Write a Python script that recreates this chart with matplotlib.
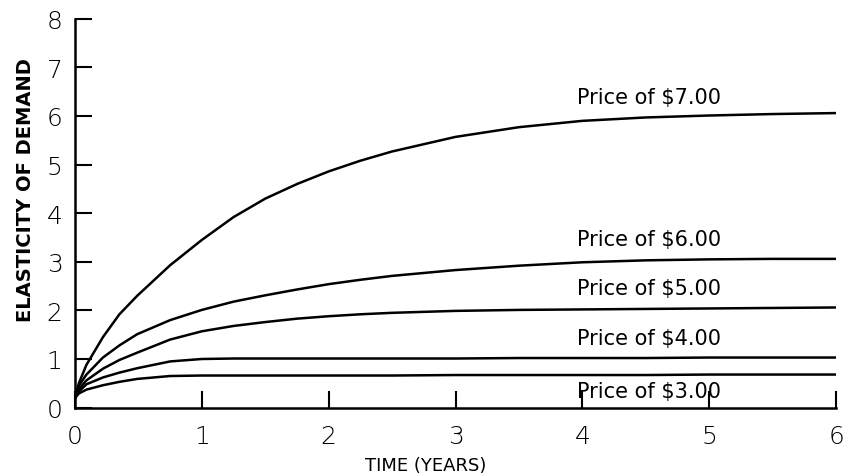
import matplotlib
matplotlib.use("Agg")
import matplotlib.pyplot as plt

# ── data ─────────────────────────────────────────────────────────────────────
years = [0, 0.03, 0.09, 0.22, 0.35, 0.49, 0.75, 1.0, 1.25, 1.5, 1.75,
         2.0, 2.25, 2.5, 3.0, 3.5, 4.0, 4.5, 5.0, 5.5, 6.0]

elast_7 = [0.2, 0.5, 0.88, 1.45, 1.92, 2.3, 2.93, 3.45, 3.92, 4.3, 4.6,
           4.86, 5.08, 5.27, 5.57, 5.77, 5.9, 5.97, 6.01, 6.04, 6.06]
elast_6 = [0.2, 0.45, 0.68, 1.03, 1.28, 1.51, 1.8, 2.01, 2.18, 2.31, 2.43,
           2.54, 2.63, 2.71, 2.83, 2.92, 2.99, 3.03, 3.05, 3.06, 3.06]
elast_5 = [0.2, 0.38, 0.56, 0.8, 0.98, 1.13, 1.4, 1.57, 1.68, 1.76, 1.83,
           1.88, 1.92, 1.95, 1.99, 2.01, 2.02, 2.03, 2.04, 2.05, 2.06]
elast_4 = [0.2, 0.33, 0.48, 0.62, 0.72, 0.81, 0.95, 1.0, 1.01, 1.01, 1.01,
           1.01, 1.01, 1.01, 1.01, 1.02, 1.02, 1.02, 1.03, 1.03, 1.03]
elast_3 = [0.2, 0.29, 0.37, 0.46, 0.53, 0.59, 0.65, 0.66, 0.66, 0.66, 0.66,
           0.66, 0.66, 0.66, 0.67, 0.67, 0.67, 0.67, 0.68, 0.68, 0.68]

series = [elast_7, elast_6, elast_5, elast_4, elast_3]
labels = ["Price of $7.00", "Price of $6.00", "Price of $5.00",
          "Price of $4.00", "Price of $3.00"]
label_x = 3.96
label_y = [6.39, 3.47, 2.46, 1.43, 0.35]

x_ticks = [0, 1, 2, 3, 4, 5, 6]
y_ticks = [0, 1, 2, 3, 4, 5, 6, 7, 8]

# ── plot ─────────────────────────────────────────────────────────────────────
plt.rcParams["font.family"] = ["DejaVu Sans"]

fig = plt.figure(figsize=(8.43, 4.77), dpi=100)
ax = fig.add_axes([0.089, 0.1434, 0.9027, 0.8151])

for vals in series:
    ax.plot(years, vals, color="black", lw=1.8, solid_joinstyle="round")

for txt, ly in zip(labels, label_y):
    ax.text(label_x, ly, txt, fontsize=15, color="black", ha="left", va="center")

ax.set_xlim(0, 6)
ax.set_ylim(0, 8)
ax.set_xticks(x_ticks)
ax.set_yticks(y_ticks)
ax.tick_params(direction="in", length=12, width=1.5, labelsize=18, pad=9)
ax.tick_params(axis="x", pad=12)
for lab in ax.get_xticklabels() + ax.get_yticklabels():
    lab.set_fontweight("light")

for side in ("top", "right"):
    ax.spines[side].set_visible(False)
for side in ("left", "bottom"):
    ax.spines[side].set_linewidth(1.8)

fig.text(0.030, 0.602, "ELASTICITY OF DEMAND", rotation=90, fontsize=14,
         fontweight="bold", ha="center", va="center")
fig.text(0.505, 0.023, "TIME (YEARS)", fontsize=13, ha="center", va="center")

fig.savefig("out.png", dpi=100)
plt.close(fig)
